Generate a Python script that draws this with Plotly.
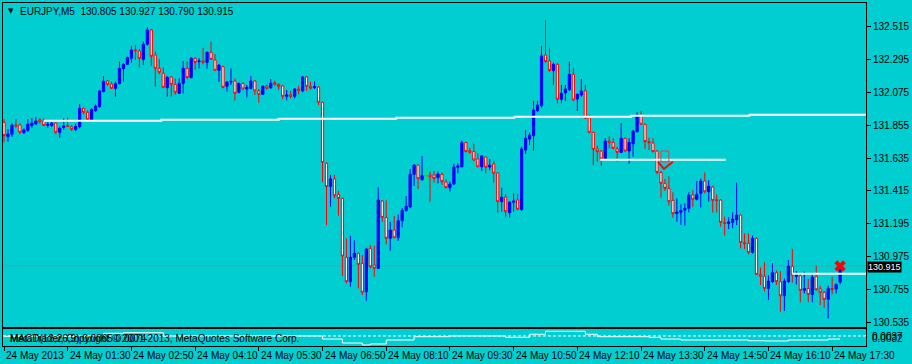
import plotly.graph_objects as go

# ---------------- data (EURJPY M5, 24 May 2013) ----------------
bar_open = [
131.874,131.778,131.794,131.856,131.856,131.805,131.820,131.852,131.863,131.890,
131.883,131.854,131.852,131.869,131.807,131.840,131.852,131.843,131.825,131.845,
131.968,131.941,131.892,131.952,131.979,132.079,132.150,132.130,132.101,132.133,
132.233,132.262,132.302,132.358,132.351,132.295,132.396,132.492,132.324,132.235,
132.202,132.106,132.177,132.128,132.068,132.135,132.235,132.173,132.302,132.280,
132.284,132.275,132.342,132.291,132.222,132.246,132.115,132.144,132.150,132.075,
132.135,132.097,132.101,132.150,132.084,132.061,132.117,132.106,132.139,132.128,
132.117,132.048,132.057,132.048,132.097,132.084,132.177,132.115,132.106,132.110,
132.008,131.600,131.444,131.495,131.392,131.365,130.971,130.808,130.971,130.998,
130.931,130.741,131.031,130.919,130.897,131.348,131.238,131.098,131.154,131.102,
131.216,131.285,131.308,131.526,131.588,131.490,131.517,131.522,131.522,131.504,
131.526,131.475,131.437,131.461,131.573,131.577,131.738,131.684,131.678,131.629,
131.577,131.642,131.575,131.595,131.535,131.343,131.374,131.270,131.339,131.354,
131.290,131.689,131.762,131.785,131.952,131.985,132.324,132.284,132.220,132.262,
132.028,132.072,132.092,132.195,132.030,132.057,132.084,131.905,131.807,131.696,
131.682,131.629,131.749,131.740,131.696,131.673,131.767,131.682,131.731,131.811,
131.916,131.861,131.745,131.736,131.682,131.539,131.466,131.432,131.352,131.263,
131.272,131.287,131.299,131.388,131.359,131.399,131.481,131.410,131.441,131.357,
131.354,131.205,131.198,131.205,131.223,131.254,131.071,131.064,131.004,131.098,
130.857,130.844,130.763,130.808,130.868,130.808,130.714,130.808,130.911,130.844,
130.848,130.750,130.763,130.723,130.844,130.759,130.737,130.690,130.763,130.759,
130.805]
bar_high = [
131.896,131.829,131.867,131.896,131.867,131.834,131.896,131.901,131.910,131.901,
131.901,131.878,131.878,131.874,131.845,131.901,131.910,131.856,131.867,131.997,
131.972,131.954,131.968,131.994,132.090,132.184,132.157,132.146,132.146,132.280,
132.269,132.313,132.385,132.391,132.365,132.414,132.509,132.498,132.347,132.298,
132.242,132.184,132.184,132.168,132.168,132.284,132.280,132.311,132.307,132.302,
132.373,132.351,132.414,132.331,132.262,132.253,132.150,132.235,132.168,132.139,
132.139,132.124,132.184,132.157,132.097,132.119,132.124,132.164,132.153,132.135,
132.124,132.090,132.084,132.101,132.119,132.184,132.184,132.144,132.150,132.115,
132.012,131.606,131.522,131.522,131.415,131.370,131.098,131.114,131.085,131.002,
130.986,131.035,131.053,131.047,131.439,131.352,131.352,131.209,131.247,131.258,
131.299,131.381,131.562,131.595,131.591,131.649,131.560,131.544,131.548,131.544,
131.539,131.493,131.477,131.595,131.600,131.751,131.745,131.704,131.731,131.667,
131.655,131.644,131.629,131.617,131.539,131.437,131.394,131.348,131.399,131.394,
131.711,131.823,131.805,132.017,132.017,132.385,132.559,132.373,132.273,132.269,
132.124,132.124,132.280,132.240,132.068,132.164,132.124,131.927,131.811,131.718,
131.689,131.767,131.780,131.767,131.711,131.869,131.771,131.767,131.823,131.941,
131.950,131.865,131.771,131.767,131.689,131.548,131.495,131.513,131.406,131.365,
131.325,131.332,131.406,131.419,131.481,131.499,131.539,131.488,131.450,131.392,
131.359,131.243,131.241,131.272,131.470,131.258,131.131,131.131,131.116,131.102,
130.902,130.937,130.853,130.933,130.884,130.879,130.830,130.953,131.027,130.879,
130.855,130.875,130.826,130.857,130.915,130.781,130.746,130.781,130.841,130.797,
130.927]
bar_low = [
131.740,131.745,131.778,131.838,131.796,131.796,131.811,131.838,131.856,131.865,
131.849,131.838,131.843,131.794,131.771,131.823,131.843,131.816,131.816,131.834,
131.927,131.887,131.887,131.945,131.972,132.075,132.119,132.097,132.046,132.128,
132.146,132.257,132.273,132.291,132.240,132.257,132.387,132.253,132.113,132.195,
132.101,132.046,132.046,132.057,132.063,132.068,132.162,132.168,132.224,132.235,
132.262,132.231,132.291,132.217,132.146,132.101,132.079,132.124,132.019,132.068,
132.088,132.039,132.095,132.057,132.006,132.057,132.092,132.097,132.119,132.090,
132.028,132.021,132.034,132.034,132.061,132.075,132.084,132.092,132.097,131.990,
131.473,131.187,131.310,131.365,131.250,130.846,130.797,130.775,130.953,130.763,
130.719,130.681,130.897,130.841,130.893,131.209,131.058,131.015,131.098,131.082,
131.171,131.276,131.299,131.448,131.428,131.484,131.477,131.343,131.470,131.466,
131.455,131.432,131.410,131.455,131.533,131.573,131.673,131.664,131.615,131.573,
131.548,131.533,131.553,131.470,131.270,131.276,131.243,131.236,131.276,131.288,
131.281,131.662,131.722,131.684,131.945,131.972,132.273,132.213,132.124,132.001,
132.001,132.017,132.084,132.017,131.950,132.046,131.896,131.800,131.588,131.611,
131.584,131.624,131.700,131.693,131.611,131.669,131.678,131.595,131.644,131.807,
131.856,131.696,131.689,131.673,131.526,131.370,131.415,131.316,131.236,131.209,
131.187,131.183,131.272,131.308,131.352,131.303,131.399,131.343,131.270,131.272,
131.176,131.116,131.160,131.165,131.187,131.031,131.027,130.991,130.995,130.853,
130.786,130.741,130.685,130.801,130.786,130.607,130.612,130.801,130.801,130.790,
130.670,130.730,130.670,130.670,130.750,130.652,130.634,130.563,130.723,130.728,
130.790]
bar_close = [
131.785,131.796,131.856,131.849,131.807,131.823,131.861,131.869,131.883,131.878,
131.852,131.861,131.869,131.807,131.834,131.849,131.847,131.825,131.847,131.968,
131.941,131.892,131.961,131.983,132.084,132.150,132.128,132.101,132.135,132.235,
132.262,132.307,132.358,132.353,132.302,132.396,132.492,132.315,132.235,132.208,
132.108,132.175,132.128,132.075,132.135,132.235,132.173,132.302,132.275,132.284,
132.275,132.342,132.295,132.222,132.257,132.108,132.142,132.148,132.068,132.135,
132.097,132.108,132.150,132.084,132.061,132.117,132.101,132.135,132.128,132.113,
132.048,132.057,132.048,132.097,132.088,132.177,132.115,132.101,132.113,132.008,
131.606,131.444,131.495,131.383,131.365,130.980,130.808,130.971,130.998,130.924,
130.737,131.027,130.908,130.897,131.354,131.238,131.098,131.154,131.102,131.216,
131.285,131.312,131.526,131.588,131.497,131.519,131.517,131.510,131.499,131.528,
131.477,131.437,131.461,131.575,131.582,131.738,131.678,131.673,131.622,131.577,
131.649,131.573,131.588,131.533,131.343,131.374,131.276,131.339,131.348,131.292,
131.696,131.767,131.789,131.956,131.990,132.318,132.280,132.220,132.262,132.028,
132.068,132.097,132.195,132.023,132.061,132.084,131.901,131.807,131.693,131.678,
131.629,131.749,131.740,131.700,131.673,131.767,131.682,131.740,131.816,131.912,
131.861,131.745,131.738,131.678,131.539,131.466,131.432,131.343,131.263,131.274,
131.285,131.299,131.388,131.359,131.392,131.481,131.410,131.446,131.352,131.352,
131.205,131.198,131.207,131.227,131.254,131.071,131.062,131.004,131.098,130.857,
130.844,130.763,130.812,130.868,130.808,130.714,130.812,130.911,130.853,130.853,
130.750,130.763,130.723,130.839,130.754,130.737,130.690,130.763,130.754,130.790,
130.915]
bars = list(range(len(bar_open)))

tick_bars = [0, 16, 32, 48, 64, 80, 96, 112, 128, 144, 160, 176, 192, 208]
tick_labels = ["24 May 2013", "24 May 01:30", "24 May 02:50", "24 May 04:10",
               "24 May 05:30", "24 May 06:50", "24 May 08:10", "24 May 09:30",
               "24 May 10:50", "24 May 12:10", "24 May 13:30", "24 May 14:50",
               "24 May 16:10", "24 May 17:30"]
price_ticks = [132.515, 132.295, 132.075, 131.855, 131.635, 131.415,
               131.195, 130.975, 130.755, 130.535]

# stepped white level line (objects)
level_bars = [10, 39.5, 69, 98.5, 128.25, 157.5, 187.25, 216.5]
level_vals = [131.885, 131.891, 131.898, 131.905, 131.911, 131.918, 131.925, 131.925]
line1_bars = [149.75, 181.25]
line1_vals = [131.624, 131.624]
line2_bars = [198, 216.5]
line2_vals = [130.861, 130.861]
# red pending-order object
rect_bars = [165, 167, 167, 165, 165]
rect_vals = [131.682, 131.682, 131.609, 131.609, 131.682]
vmark_bars = [164.25, 165.75, 168]
vmark_vals = [131.610, 131.562, 131.610]
x_mark_bar = [210]
x_mark_val = [130.913]

# MACD sub-window (step line)
macd_bars = [0, 25, 30, 40, 80, 85, 90, 92, 96, 103, 112, 126, 132, 136, 146,
             149, 162, 165, 170, 187, 191, 197, 207, 210]
macd_vals = [0.0000, 0.0037, 0.0044, 0.0004, -0.0034, -0.0083, -0.0108, -0.0095,
             -0.0046, -0.0005, 0.0004, -0.0013, 0.0025, 0.0062, 0.0025, -0.0005,
             -0.0013, -0.0034, -0.0046, -0.0055, -0.0058, -0.0046, -0.0034, -0.0034]
signal_bars = [-0.25, 216.5]
signal_vals = [0.0004, 0.0004]

BG = "#00CED1"
FONT = "Liberation Sans, Arial, sans-serif"

# split doji bars
doji = [i for i in bars if bar_open[i] == bar_close[i]]
body = [i for i in bars if bar_open[i] != bar_close[i]]

fig = go.Figure()
fig.add_trace(go.Candlestick(
    x=[bars[i] for i in body],
    open=[bar_open[i] for i in body], high=[bar_high[i] for i in body],
    low=[bar_low[i] for i in body], close=[bar_close[i] for i in body],
    increasing=dict(line=dict(color="#0000FF", width=1), fillcolor="#0000FF"),
    decreasing=dict(line=dict(color="#FF0000", width=1), fillcolor="#FFFFFF"),
    whiskerwidth=0, showlegend=False, hoverinfo="skip", xaxis="x", yaxis="y"))
fig.add_trace(go.Scatter(
    x=[bars[i] for i in doji], y=[bar_open[i] for i in doji], mode="markers",
    marker=dict(symbol="line-ew-open", size=4, line=dict(color="#00FF00", width=1)),
    error_y=dict(type="data", symmetric=False,
                 array=[bar_high[i] - bar_open[i] for i in doji],
                 arrayminus=[bar_open[i] - bar_low[i] for i in doji],
                 color="#00FF00", thickness=1, width=0),
    showlegend=False, hoverinfo="skip", xaxis="x", yaxis="y"))

line_style = dict(color="#FFFFFF", width=2)
fig.add_trace(go.Scatter(x=level_bars, y=level_vals, mode="lines", line=dict(line_style, shape="hv"),
                         showlegend=False, hoverinfo="skip"))
fig.add_trace(go.Scatter(x=line1_bars, y=line1_vals, mode="lines", line=line_style,
                         showlegend=False, hoverinfo="skip"))
fig.add_trace(go.Scatter(x=line2_bars, y=line2_vals, mode="lines", line=line_style,
                         showlegend=False, hoverinfo="skip"))
fig.add_trace(go.Scatter(x=rect_bars, y=rect_vals, mode="lines", line=dict(color="#FF3040", width=1),
                         showlegend=False, hoverinfo="skip"))
fig.add_trace(go.Scatter(x=vmark_bars, y=vmark_vals, mode="lines", line=dict(color="#FF0000", width=2),
                         showlegend=False, hoverinfo="skip"))
fig.add_trace(go.Scatter(x=x_mark_bar, y=x_mark_val, mode="markers",
                         marker=dict(symbol="x", size=10, color="#FF0000", line=dict(width=0)),
                         showlegend=False, hoverinfo="skip"))

# sub window
fig.add_trace(go.Scatter(x=signal_bars, y=signal_vals, mode="lines",
                         line=dict(color="#FFFFFF", width=1, dash="3px,2px"),
                         showlegend=False, hoverinfo="skip", xaxis="x2", yaxis="y2"))
fig.add_trace(go.Scatter(x=macd_bars, y=macd_vals, mode="lines",
                         line=dict(color="#FFFFFF", width=1, shape="hv"),
                         showlegend=False, hoverinfo="skip", xaxis="x2", yaxis="y2"))

H_TOP, H_MAIN_BOT, H_SUB_TOP, H_SUB_BOT = 3, 327, 329, 346
span = H_SUB_BOT - H_TOP

fig.update_layout(
    width=912, height=364,
    margin=dict(l=2, r=43, t=3, b=18, pad=0),
    paper_bgcolor=BG, plot_bgcolor=BG,
    font=dict(family=FONT, size=9, color="#000000"),
    showlegend=False,
    boxgap=0.2,
    xaxis=dict(domain=[0, 1], anchor="y", range=[-0.25, 216.5], showgrid=False, zeroline=False,
               showticklabels=False, ticks="", showline=True, mirror=True, linecolor="#000000",
               linewidth=1, rangeslider=dict(visible=False), fixedrange=True),
    yaxis=dict(domain=[(H_SUB_BOT - H_MAIN_BOT) / span, 1], anchor="x", side="right",
               range=[130.505, 132.672], showgrid=False, zeroline=False,
               tickvals=price_ticks, ticktext=[f"{v:.3f}" for v in price_ticks],
               ticks="outside", ticklen=4, tickcolor="#000000",
               tickfont=dict(family=FONT, size=10, color="#000000"),
               showline=True, mirror=True, linecolor="#000000", linewidth=1),
    xaxis2=dict(domain=[0, 1], anchor="y2", matches="x", showgrid=False, zeroline=False,
                tickvals=tick_bars, showticklabels=False, ticks="outside", ticklen=4,
                tickcolor="#000000", showline=True, mirror=True, linecolor="#000000", linewidth=1),
    yaxis2=dict(domain=[0, (H_SUB_BOT - H_SUB_TOP) / span], anchor="x2", side="right",
                range=[-0.012, 0.009], showgrid=False, zeroline=False, showticklabels=False,
                ticks="", showline=True, mirror=True, linecolor="#000000", linewidth=1),
)

# current price line + label
fig.add_shape(type="line", xref="x domain", x0=0, x1=1, yref="y",
              y0=bar_close[-1], y1=bar_close[-1], line=dict(color="#8C8C8C", width=1), layer="below")
fig.add_annotation(xref="paper", x=1, xanchor="left", xshift=1, yref="y", y=bar_close[-1],
                   yanchor="middle", yshift=-1, text=f"{bar_close[-1]:.3f}", showarrow=False,
                   bgcolor="#000000", font=dict(color="#FFFFFF", size=9, family=FONT),
                   borderpad=0)

# time labels (left aligned at ticks)
for b, t in zip(tick_bars, tick_labels):
    fig.add_annotation(xref="x2", x=b, xanchor="left", xshift=0, yref="paper", y=0,
                       yanchor="middle", yshift=-9.5, text=t, showarrow=False,
                       font=dict(size=10, family=FONT, color="#000000"))

# header
fig.add_annotation(xref="paper", x=0, xanchor="center", xshift=8, yref="paper", y=1,
                   yanchor="middle", yshift=-8, text="▼", showarrow=False,
                   font=dict(size=7, family="DejaVu Sans", color="#000000"))
fig.add_annotation(xref="paper", x=0, xanchor="left", xshift=15, yref="paper", y=1,
                   yanchor="middle", yshift=-8,
                   text=f"EURJPY,M5  {bar_open[-1]:.3f} {bar_high[-1]:.3f} {bar_low[-1]:.3f} {bar_close[-1]:.3f}",
                   showarrow=False, font=dict(size=10, family=FONT, color="#000000"))

# sub window texts (overlapping, as in the terminal)
fig.add_annotation(xref="paper", x=0, xanchor="left", xshift=5, yref="paper", y=0,
                   yanchor="middle", yshift=8, text="MACD(12,26,9) 0.0065 0.0074",
                   showarrow=False, font=dict(size=10, family=FONT, color="#000000"))
fig.add_annotation(xref="paper", x=0, xanchor="left", xshift=5, yref="paper", y=0,
                   yanchor="middle", yshift=8,
                   text="MetaTrader, Copyright © 2001-2013, MetaQuotes Software Corp.",
                   showarrow=False, font=dict(size=10, family=FONT, color="#000000"))
fig.add_annotation(xref="paper", x=1, xanchor="left", xshift=4, yref="paper", y=0,
                   yanchor="middle", yshift=8, text="0.0032", showarrow=False,
                   font=dict(size=10, family=FONT, color="#000000"))
fig.add_annotation(xref="paper", x=1, xanchor="left", xshift=4, yref="paper", y=0,
                   yanchor="middle", yshift=10, text="0.0037", showarrow=False,
                   font=dict(size=10, family=FONT, color="#000000"))

fig.write_html("out.html")
